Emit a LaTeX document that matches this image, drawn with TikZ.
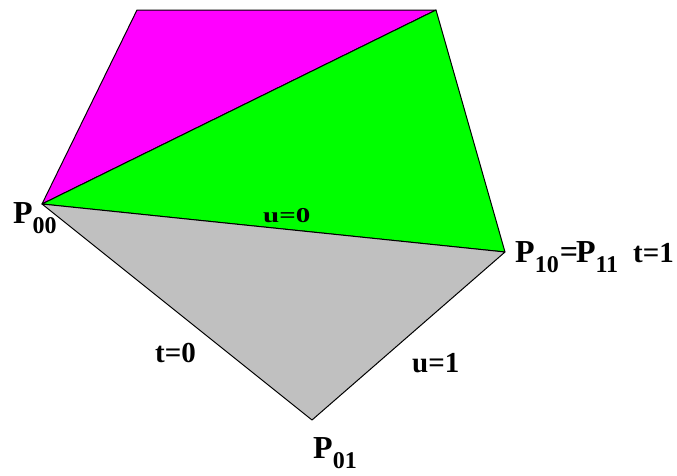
\documentclass[tikz,border=0pt]{standalone}
\usepackage{fontspec}
\setmainfont{Liberation Serif}
\usepackage{xcolor}
\definecolor{rosa}{RGB}{255,0,255}
\definecolor{verde}{RGB}{0,255,0}
\definecolor{cinza}{RGB}{192,192,192}
\newcommand{\subidx}[1]{\raisebox{-10pt}{\fontsize{24}{24}\selectfont #1}}

\begin{document}
\begin{tikzpicture}[
    x=1pt, y=-1pt,
    face/.style={draw=black, line width=1pt, line join=round},
    lbl/.style={inner sep=0pt, anchor=base west,
                font=\fontsize{29}{30}\selectfont\bfseries},
    plbl/.style={inner sep=0pt, anchor=base west,
                 font=\fontsize{32}{32}\selectfont\bfseries}
  ]
  \useasboundingbox (0,0) rectangle (677,475);

  \coordinate (P00) at (42,204);
  \coordinate (TL)  at (137,10);
  \coordinate (TR)  at (436,10);
  \coordinate (P10) at (505,252);
  \coordinate (P01) at (312,420);

  % faces
  \filldraw[face, fill=rosa]  (P00) -- (TL) -- (TR) -- cycle;
  \filldraw[face, fill=verde] (P00) -- (TR) -- (P10) -- cycle;
  \filldraw[face, fill=cinza] (P00) -- (P10) -- (P01) -- cycle;

  % labels
  \node[plbl] (l00) at (13,223)  {P\subidx{00}};
  \node[plbl] (l10) at (515,262) {P\subidx{10}\kern1pt=\kern-2pt P\subidx{11}};
  \node[plbl] (l01) at (313,458) {P\subidx{01}};
  \node[lbl]  (t1)  at (633,262) {t=1};
  \node[lbl]  (t0)  at (155,362) {t=0};
  \node[lbl]  (u1)  at (412,372) {u=1};
  \node[lbl]  (u0)  at (263,222) {\scalebox{1}[0.73]{u=0}};

\end{tikzpicture}
\end{document}
